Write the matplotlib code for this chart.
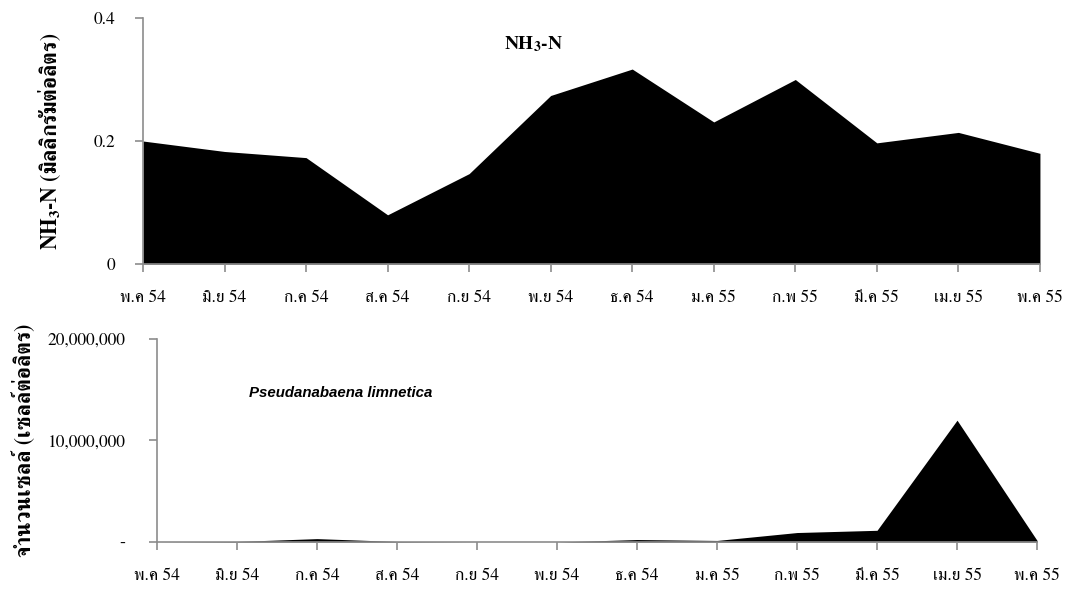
import matplotlib
matplotlib.use('Agg')
import matplotlib.pyplot as plt
from matplotlib.ticker import FixedLocator, FuncFormatter

plt.rcParams['font.family'] = ['FreeSerif', 'DejaVu Sans']
plt.rcParams['mathtext.fontset'] = 'stix'

months = ['พ.ค 54', 'มิ.ย 54', 'ก.ค 54', 'ส.ค 54', 'ก.ย 54', 'พ.ย 54',
          'ธ.ค 54', 'ม.ค 55', 'ก.พ 55', 'มี.ค 55', 'เม.ย 55', 'พ.ค 55']
nh3_n = [0.200, 0.183, 0.173, 0.080, 0.147, 0.274,
         0.317, 0.231, 0.300, 0.197, 0.214, 0.180]
pseudanabaena = [0, 50000, 330000, 50000, 0, 0,
                 240000, 150000, 930000, 1150000, 12000000, 150000]

axis_grey = '#8c8c8c'
x = list(range(len(months)))

fig = plt.figure(figsize=(10.71, 5.92), dpi=100)
ax1 = fig.add_axes([0.1335, 0.554, 0.8375, 0.4156])
ax2 = fig.add_axes([0.1466, 0.0845, 0.8217, 0.3429])


def style_axis(ax, ypad):
    for side in ['top', 'right']:
        ax.spines[side].set_visible(False)
    for side in ['left', 'bottom']:
        ax.spines[side].set_color(axis_grey)
        ax.spines[side].set_linewidth(1.2)
    ax.tick_params(axis='both', direction='out', length=6, width=1.2,
                   color=axis_grey, labelsize=12.5)
    ax.tick_params(axis='x', pad=13)
    ax.tick_params(axis='y', pad=ypad)
    ax.set_xlim(0, len(months) - 1)
    ax.set_xticks(x)
    ax.set_xticklabels(months)


# NH3-N panel
ax1.fill_between(x, nh3_n, 0, color='black', linewidth=0)
style_axis(ax1, 14)
ax1.set_ylim(0, 0.4)
ax1.yaxis.set_major_locator(FixedLocator([0, 0.2, 0.4]))
ax1.set_yticklabels(['0', '0.2', '0.4'])
ax1.set_ylabel(r'NH$_\mathbf{3}$-N (มิลลิกรัมต่อลิตร)', fontsize=15.5,
               fontweight='bold', labelpad=22)
ax1.text(0.435, 0.895, r'NH$_\mathbf{3}$-N', transform=ax1.transAxes,
         ha='center', va='center', fontsize=14, fontweight='bold')

# cell count panel
ax2.fill_between(x, pseudanabaena, 0, color='black', linewidth=0)
style_axis(ax2, 17)
ax2.set_ylim(0, 20000000)
ax2.yaxis.set_major_locator(FixedLocator([0, 10000000, 20000000]))
ax2.yaxis.set_major_formatter(FuncFormatter(
    lambda v, p: '-' if v == 0 else f'{int(v):,}'))
ax2.set_ylabel('จำนวนเซลล์ (เซลล์ต่อลิตร)', fontsize=15.5,
               fontweight='bold', labelpad=8)
ax2.text(0.209, 0.734, 'Pseudanabaena limnetica', transform=ax2.transAxes,
         ha='center', va='center', fontsize=10.8, fontweight='bold',
         fontstyle='italic', family='Liberation Sans')

fig.savefig('out.png', dpi=100)
